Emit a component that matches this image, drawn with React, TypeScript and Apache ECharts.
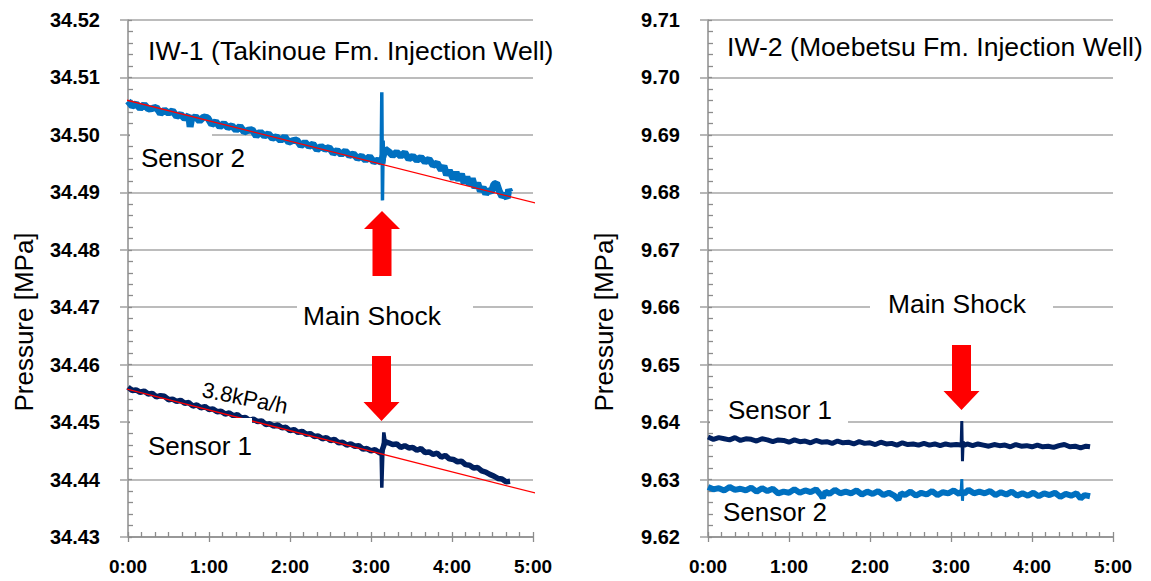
import React, { useEffect, useRef } from 'react';
import * as echarts from 'echarts';

const FONT = '"Liberation Sans", Arial, sans-serif';

// time in minutes after 0:00, pressure in MPa
const iw1Sensor2: [number, number][] = [
  [0, 34.5059], [3, 34.505], [6, 34.5054], [9, 34.5046], [12, 34.5053], [15, 34.5045], [18, 34.5046],
  [21, 34.5048], [24, 34.5037], [27, 34.5043], [30, 34.5038], [33, 34.5042], [36, 34.5032], [39, 34.5036],
  [42, 34.5028], [45, 34.5034], [46, 34.5014], [47, 34.5027], [50, 34.5032], [53, 34.5024], [56, 34.5031],
  [59, 34.503], [62, 34.5018], [65, 34.5023], [68, 34.5014], [71, 34.502], [74, 34.5013], [77, 34.5016],
  [80, 34.5008], [83, 34.5015], [86, 34.5005], [89, 34.5008], [92, 34.5009], [95, 34.4998], [98, 34.5005],
  [101, 34.4998], [104, 34.5002], [107, 34.4994], [110, 34.4997], [113, 34.499], [116, 34.4997], [119, 34.4987],
  [122, 34.499], [125, 34.4991], [128, 34.4981], [131, 34.4987], [134, 34.498], [137, 34.4984], [140, 34.4974],
  [143, 34.498], [146, 34.4975], [149, 34.4978], [152, 34.4968], [155, 34.4973], [158, 34.4966], [161, 34.4972],
  [164, 34.4964], [167, 34.4967], [170, 34.4959], [173, 34.4963], [176, 34.4956], [179, 34.4962], [182, 34.4953],
  [185, 34.4956], [187.5, 34.4952], [190.5, 34.4975], [193, 34.4971], [196, 34.4964], [199, 34.497],
  [202, 34.4963], [205, 34.4969], [208, 34.4958], [211, 34.4963], [214, 34.4956], [217, 34.4961], [220, 34.4953],
  [223, 34.4958], [226, 34.4947], [229, 34.4951], [232, 34.4939], [234, 34.4946], [236, 34.493], [238, 34.4938],
  [241, 34.4923], [243, 34.4935], [245, 34.4921], [247, 34.4932], [249, 34.4916], [251, 34.4927], [253, 34.4913],
  [255, 34.4924], [257, 34.4908], [259, 34.4916], [261, 34.4902], [263, 34.4909], [265, 34.4897], [267, 34.4904],
  [269, 34.49], [271, 34.4914], [273, 34.4916], [275, 34.4902], [277, 34.4893], [279, 34.4896], [281, 34.489],
  [282, 34.4905], [283, 34.49],
];
const iw1Sensor2Spike: [number, number][] = [
  [187.5, 34.4952], [188, 34.5074], [188.5, 34.4886], [189, 34.499], [189.5, 34.495], [190.5, 34.4975],
];

const iw1Sensor1: [number, number][] = [
  [0, 34.4561], [3, 34.4555], [6, 34.4556], [9, 34.4552], [12, 34.4554], [15, 34.4549], [18, 34.455],
  [21, 34.4544], [24, 34.4546], [27, 34.4545], [30, 34.4539], [33, 34.454], [36, 34.4536], [39, 34.4538],
  [42, 34.4533], [45, 34.4534], [48, 34.4528], [51, 34.453], [54, 34.4525], [57, 34.4527], [60, 34.4522],
  [63, 34.4523], [66, 34.4518], [69, 34.4519], [72, 34.4514], [75, 34.4516], [78, 34.4511], [81, 34.4513],
  [84, 34.4507], [87, 34.4508], [90, 34.4503], [93, 34.4505], [96, 34.4501], [99, 34.4502], [102, 34.4496],
  [105, 34.4497], [108, 34.4493], [111, 34.4495], [114, 34.449], [117, 34.4491], [120, 34.4485], [123, 34.4487],
  [126, 34.4482], [129, 34.4484], [132, 34.4479], [135, 34.448], [138, 34.4475], [141, 34.4476], [144, 34.4471],
  [147, 34.4473], [150, 34.4468], [153, 34.447], [156, 34.4464], [159, 34.4465], [162, 34.446], [165, 34.4462],
  [168, 34.4458], [171, 34.4459], [174, 34.4453], [177, 34.4454], [180, 34.445], [183, 34.4452], [186, 34.4447],
  [187.5, 34.4446], [190.5, 34.4466], [193, 34.4464],
  [196, 34.4461], [199, 34.4462], [202, 34.4456], [205, 34.4459], [208, 34.4455], [211, 34.4456], [214, 34.4451],
  [217, 34.4454], [220, 34.4447], [223, 34.4448], [226, 34.4444], [229, 34.4446], [232, 34.4439], [235, 34.4442],
  [238, 34.4436], [241, 34.4435], [244, 34.4431], [247, 34.4432], [250, 34.4426], [253, 34.4425], [256, 34.442],
  [259, 34.4421], [262, 34.4415], [265, 34.4413], [268, 34.4409], [271, 34.4406], [274, 34.4402], [277, 34.4401],
  [280, 34.4396], [283, 34.4397],
];
const iw1Sensor1Spike: [number, number][] = [
  [187.5, 34.4446], [188, 34.4386], [188.7, 34.444], [189.5, 34.4482], [190.5, 34.4466],
];

const iw1Trend2: [number, number][] = [[-3.5, 34.5062], [306, 34.4879]];
const iw1Trend1: [number, number][] = [[-3.5, 34.4559], [306, 34.4374]];

const iw2Sensor1: [number, number][] = [
  [0, 9.6374], [4, 9.637], [8, 9.6373], [12, 9.6371], [16, 9.6369], [20, 9.6373], [24, 9.6368], [28, 9.6371],
  [32, 9.637], [36, 9.6367], [40, 9.6371], [44, 9.6369], [48, 9.6366], [52, 9.6369], [56, 9.6368], [60, 9.6365],
  [64, 9.6369], [68, 9.6366], [72, 9.6367], [76, 9.6364], [80, 9.6368], [84, 9.6365], [88, 9.6366], [92, 9.6363],
  [96, 9.6367], [100, 9.6364], [104, 9.6365], [108, 9.6362], [112, 9.6366], [116, 9.6363], [120, 9.6364],
  [124, 9.6361], [128, 9.6365], [132, 9.6362], [136, 9.6363], [140, 9.636], [144, 9.6364], [148, 9.6361],
  [152, 9.6362], [156, 9.636], [160, 9.6363], [164, 9.636], [168, 9.6362], [172, 9.6359], [176, 9.6362],
  [180, 9.636], [184, 9.6361], [187.5, 9.636], [190, 9.636],
  [192, 9.6362], [196, 9.6359], [200, 9.6362], [204, 9.636], [208, 9.6358], [212, 9.6361], [216, 9.6359],
  [220, 9.636], [224, 9.6357], [228, 9.6361], [232, 9.6358], [236, 9.6359], [240, 9.6357], [244, 9.636],
  [248, 9.6357], [252, 9.6358], [256, 9.6356], [260, 9.6359], [264, 9.6361], [268, 9.6357], [272, 9.6358],
  [276, 9.6355], [280, 9.6358], [283, 9.6357],
];
const iw2Sensor1Spike: [number, number][] = [
  [187.5, 9.636], [188, 9.6402], [188.5, 9.6332], [189, 9.6366], [190, 9.636],
];

const iw2Sensor2: [number, number][] = [
  [0, 9.6287], [4, 9.6283], [8, 9.6285], [12, 9.6281], [16, 9.6287], [20, 9.6282], [24, 9.6284], [28, 9.6281],
  [32, 9.6286], [36, 9.6279], [40, 9.6285], [44, 9.628], [48, 9.6284], [52, 9.6276], [56, 9.6279], [60, 9.6277],
  [64, 9.6283], [68, 9.6277], [72, 9.6281], [76, 9.6278], [80, 9.6283], [84, 9.6272], [85, 9.6268], [87, 9.6279],
  [90, 9.6275], [94, 9.6282], [98, 9.6276], [102, 9.6279], [106, 9.6276], [110, 9.6281], [114, 9.6274], [118, 9.6279],
  [122, 9.6275], [126, 9.628], [130, 9.6273], [134, 9.6277], [138, 9.6272], [141, 9.6265], [143, 9.6276],
  [146, 9.6273], [150, 9.6279], [154, 9.6272], [158, 9.6277], [162, 9.6274], [166, 9.628], [170, 9.6273],
  [174, 9.6278], [178, 9.6276], [182, 9.6281], [186, 9.6275], [187.5, 9.6279], [190, 9.6276], [193, 9.6282],
  [197, 9.6276], [201, 9.6279], [205, 9.6276], [209, 9.628],
  [213, 9.6273], [217, 9.6278], [221, 9.6274], [225, 9.6279], [229, 9.6272], [233, 9.6276], [237, 9.6272],
  [241, 9.6277], [245, 9.6271], [249, 9.6276], [253, 9.6273], [257, 9.6277], [261, 9.627], [265, 9.6275],
  [269, 9.6272], [273, 9.6276], [276, 9.6267], [279, 9.6273], [283, 9.6271],
];
const iw2Sensor2Spike: [number, number][] = [
  [187.5, 9.6279], [188, 9.6301], [188.5, 9.6263], [189, 9.6281], [190, 9.6276],
];

const timeTicks = { min: 0, max: 300, interval: 60 };
const iw1Range = { min: 34.43, max: 34.52, interval: 0.01 };
const iw2Range = { min: 9.62, max: 9.71, interval: 0.01 };

const titles = ['IW-1 (Takinoue Fm. Injection Well)', 'IW-2 (Moebetsu Fm. Injection Well)'];
const yName = 'Pressure [MPa]';

const LIGHT = '#0070C0';
const NAVY = '#002060';
const AXIS = '#8c8c8c';
const GRIDC = '#a6a6a6';

function xAxesFor(gridIndex: number) {
  const tickStyle = { color: AXIS, width: 1.3 };
  return [
    {
      type: 'value', gridIndex, position: 'bottom', ...timeTicks,
      axisLine: { show: true, lineStyle: { color: AXIS, width: 1.5 } },
      axisTick: { show: true, inside: true, length: 5, lineStyle: tickStyle },
      minorTick: { show: true, splitNumber: 6, length: 5, lineStyle: tickStyle },
      axisLabel: {
        margin: 20, color: '#000', fontFamily: FONT, fontSize: 19, fontWeight: 'bold',
        formatter: (v: number) => `${Math.round(v / 60)}:00`,
      },
      splitLine: { show: false },
    },
    {
      type: 'value', gridIndex, position: 'bottom', ...timeTicks,
      axisLine: { show: true, lineStyle: { color: 'rgba(0,0,0,0)' } },
      axisTick: { show: true, inside: false, length: 5, lineStyle: tickStyle },
      axisLabel: { show: false },
      splitLine: { show: false },
    },
  ];
}

function yAxesFor(gridIndex: number, range: { min: number; max: number; interval: number }) {
  const tickStyle = { color: AXIS, width: 1.3 };
  return [
    {
      type: 'value', gridIndex, position: 'left', ...range,
      axisLine: { show: true, lineStyle: { color: AXIS, width: 1.5 } },
      axisTick: { show: true, inside: true, length: 4, lineStyle: tickStyle },
      minorTick: { show: true, splitNumber: 5, length: 5, lineStyle: tickStyle },
      splitLine: { show: true, lineStyle: { color: GRIDC, width: 1.6 } },
      axisLabel: {
        margin: 28, color: '#000', fontFamily: FONT, fontSize: 20, fontWeight: 'bold',
        formatter: (v: number) => v.toFixed(2),
      },
    },
    {
      type: 'value', gridIndex, position: 'left', ...range,
      axisLine: { show: true, lineStyle: { color: 'rgba(0,0,0,0)' } },
      axisTick: { show: true, inside: false, length: 8, lineStyle: { color: GRIDC, width: 1.6 } },
      axisLabel: { show: false },
      splitLine: { show: false },
    },
  ];
}

function dataLine(data: [number, number][], axis: number, color: string, width: number) {
  return {
    type: 'line', xAxisIndex: axis, yAxisIndex: axis, data, showSymbol: false, symbol: 'none',
    lineStyle: { color, width, join: 'bevel' }, z: 3, silent: true,
  };
}

function trendLine(data: [number, number][]) {
  return {
    type: 'line', xAxisIndex: 0, yAxisIndex: 0, data, showSymbol: false, symbol: 'none', clip: false,
    lineStyle: { color: '#ff0000', width: 1.3 }, z: 5, silent: true,
  };
}

function txt(text: string, x: number, y: number, size = 26, rotation = 0) {
  return {
    type: 'text', x, y, rotation, z: 120,
    style: {
      text, fill: '#000', font: `${size}px ${FONT}`, textAlign: rotation ? 'center' : 'left',
      textVerticalAlign: 'middle',
    },
  };
}

function white(x: number, y: number, w: number, h: number) {
  return { type: 'rect', z: 110, shape: { x, y, width: w, height: h }, style: { fill: '#fff' } };
}

function arrowDown(cx: number, top: number, headY: number, tip: number) {
  return {
    type: 'polygon', z: 115,
    shape: {
      points: [
        [cx - 9.5, top], [cx + 9.5, top], [cx + 9.5, headY], [cx + 18, headY],
        [cx, tip], [cx - 18, headY], [cx - 9.5, headY],
      ],
    },
    style: { fill: '#ff0000' },
  };
}

function arrowUp(cx: number, tip: number, headY: number, bottom: number) {
  return {
    type: 'polygon', z: 115,
    shape: {
      points: [
        [cx, tip], [cx + 18, headY], [cx + 9.5, headY], [cx + 9.5, bottom],
        [cx - 9.5, bottom], [cx - 9.5, headY], [cx - 18, headY],
      ],
    },
    style: { fill: '#ff0000' },
  };
}

export default function App() {
  const ref = useRef<HTMLDivElement>(null);
  useEffect(() => {
    const chart = echarts.init(ref.current as HTMLDivElement, null, { renderer: 'svg' });
    const option: any = {
      animation: false,
      backgroundColor: '#ffffff',
      grid: [
        { left: 128, top: 20, width: 405, height: 517 },
        { left: 708, top: 20, width: 405, height: 517 },
      ],
      xAxis: [...xAxesFor(0), ...xAxesFor(1)],
      yAxis: [...yAxesFor(0, iw1Range), ...yAxesFor(1, iw2Range)],
      series: [
        dataLine(iw1Sensor2, 0, LIGHT, 7),
        dataLine(iw1Sensor2Spike, 0, LIGHT, 3.5),
        dataLine(iw1Sensor1, 0, NAVY, 5.5),
        dataLine(iw1Sensor1Spike, 0, NAVY, 3.5),
        trendLine(iw1Trend2),
        trendLine(iw1Trend1),
        dataLine(iw2Sensor1, 2, NAVY, 5),
        dataLine(iw2Sensor1Spike, 2, NAVY, 3),
        dataLine(iw2Sensor2, 2, LIGHT, 6),
        dataLine(iw2Sensor2Spike, 2, LIGHT, 3),
      ],
      graphic: [
        white(130, 130, 82, 9),
        white(130, 418, 122, 9),
        white(297, 302, 176, 10),
        white(870, 302, 183, 10),
        white(710, 418, 138, 9),
        txt(titles[0], 148, 51, 26.6),
        txt(titles[1], 727, 47, 26.6),
        txt('Sensor 2', 141, 158),
        txt('Sensor 1', 148, 446),
        txt('Main Shock', 303, 316, 26.4),
        txt('Main Shock', 888, 304, 26.4),
        txt('Sensor 1', 728, 410),
        txt('Sensor 2', 723, 512),
        txt('3.8kPa/h', 245, 398, 22, -0.2),
        txt(yName, 24, 322, 26, Math.PI / 2),
        txt(yName, 604, 322, 26, Math.PI / 2),
        arrowUp(382, 211, 229, 276),
        arrowDown(381.5, 356, 402, 421),
        arrowDown(961.5, 345, 391, 410),
      ],
    };
    chart.setOption(option);
    return () => chart.dispose();
  }, []);
  return (
    <div
      ref={ref}
      style={{ position: 'fixed', left: 0, top: 0, width: 1151, height: 581, background: '#fff' }}
    />
  );
}
